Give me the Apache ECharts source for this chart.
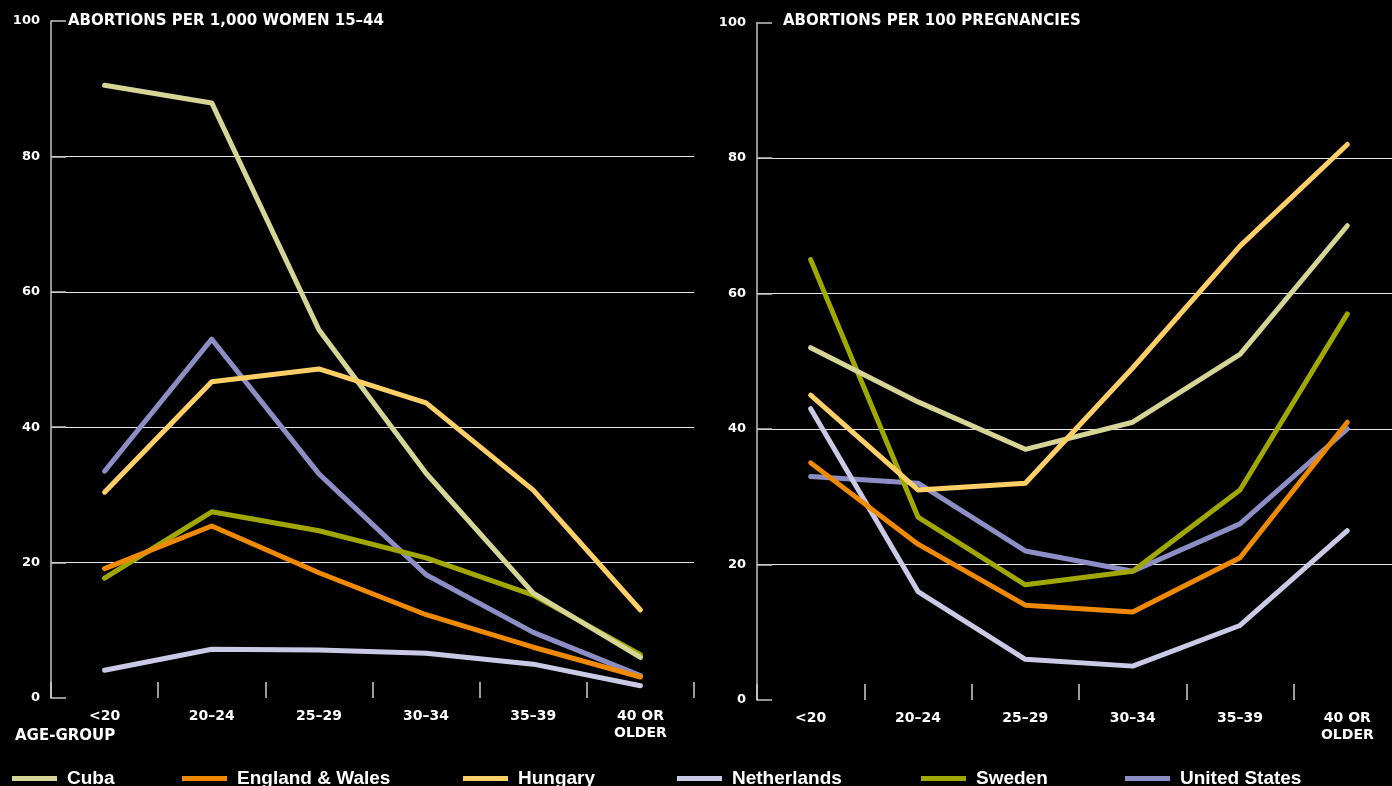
<!DOCTYPE html>
<html>
<head>
<meta charset="utf-8">
<script src="https://cdn.jsdelivr.net/npm/echarts@6/dist/echarts.min.js"></script>
<style>
html,body{margin:0;padding:0;background:#000;}
#chart{width:1392px;height:786px;}
</style>
</head>
<body>
<div id="chart"></div>
<script>
// ---- Data ----
var categories = ['<20', '20–24', '25–29', '30–34', '35–39', '40 OR\nOLDER'];
var yTicks = [0, 20, 40, 60, 80, 100];
var countries = ['Cuba', 'England & Wales', 'Hungary', 'Netherlands', 'Sweden', 'United States'];

// Abortions per 1,000 women 15-44 (left panel)
var rateCuba        = [90.5, 87.9, 54.4, 33.2, 15.5, 6.0];
var rateEngland     = [19.1, 25.4, 18.5, 12.3, 7.5, 3.1];
var rateHungary     = [30.4, 46.7, 48.6, 43.6, 30.7, 13.0];
var rateNetherlands = [4.1, 7.2, 7.1, 6.6, 5.0, 1.8];
var rateSweden      = [17.7, 27.5, 24.7, 20.7, 15.2, 6.4];
var rateUS          = [33.5, 53.0, 33.1, 18.2, 9.7, 3.3];

// Abortions per 100 pregnancies (right panel)
var pctCuba        = [52, 44, 37, 41, 51, 70];
var pctEngland     = [35, 23, 14, 13, 21, 41];
var pctHungary     = [45, 31, 32, 49, 67, 82];
var pctNetherlands = [43, 16, 6, 5, 11, 25];
var pctSweden      = [65, 27, 17, 19, 31, 57];
var pctUS          = [33, 32, 22, 19, 26, 40];

var leftTitle = 'ABORTIONS PER 1,000 WOMEN 15–44';
var rightTitle = 'ABORTIONS PER 100 PREGNANCIES';
var xAxisTitle = 'AGE-GROUP';

// ---- Styling ----
var colors = {
  'Cuba': '#d5d596',
  'England & Wales': '#ef8a00',
  'Hungary': '#fdcf66',
  'Netherlands': '#cacae6',
  'Sweden': '#a0a800',
  'United States': '#8e8ec6'
};
var leftData = {
  'Cuba': rateCuba, 'England & Wales': rateEngland, 'Hungary': rateHungary,
  'Netherlands': rateNetherlands, 'Sweden': rateSweden, 'United States': rateUS
};
var rightData = {
  'Cuba': pctCuba, 'England & Wales': pctEngland, 'Hungary': pctHungary,
  'Netherlands': pctNetherlands, 'Sweden': pctSweden, 'United States': pctUS
};
var drawOrder = ['United States', 'Sweden', 'Cuba', 'Hungary', 'Netherlands', 'England & Wales'];
var legendLeft = [12, 182, 463, 677, 921, 1125];

var wideFont = 'DejaVu Sans';

function xAxisCfg(idx) {
  return {
    type: 'category', gridIndex: idx, data: categories, boundaryGap: true,
    axisLine: { show: false },
    axisTick: { show: true, inside: true, length: 16, lineStyle: { color: '#cfcfcf', width: 1.5 } },
    axisLabel: { color: '#fff', fontFamily: wideFont, fontWeight: 'bold', fontSize: 14, lineHeight: 17, margin: 10 },
    splitLine: { show: false }
  };
}
function yAxisCfg(idx) {
  return {
    type: 'value', gridIndex: idx, min: yTicks[0], max: yTicks[yTicks.length - 1], interval: 20,
    axisLine: { show: true, lineStyle: { color: '#c4c4c4', width: 1.5 } },
    axisTick: { show: true, inside: true, length: 15, lineStyle: { color: '#c4c4c4', width: 1.5 } },
    axisLabel: { color: '#fff', fontFamily: wideFont, fontWeight: 'bold', fontSize: 13, margin: 11 },
    splitLine: { show: true, showMinLine: false, showMaxLine: false, lineStyle: { color: '#e6e6e6', width: 1.2 } }
  };
}

var series = [];
drawOrder.forEach(function (name) {
  [0, 1].forEach(function (g) {
    series.push({
      name: name, type: 'line', xAxisIndex: g, yAxisIndex: g,
      data: g === 0 ? leftData[name] : rightData[name],
      symbol: 'none', smooth: false,
      lineStyle: { color: colors[name], width: 5, cap: 'round', join: 'round' },
      itemStyle: { color: colors[name] },
      emphasis: { disabled: true }
    });
  });
});

var legends = countries.map(function (name, i) {
  return {
    data: [{ name: name, icon: 'rect', itemStyle: { color: colors[name] } }],
    left: legendLeft[i], top: 769, orient: 'horizontal',
    itemWidth: 45, itemHeight: 5, selectedMode: false, padding: 0,
    textStyle: { color: '#fff', fontFamily: 'Liberation Sans', fontWeight: 'bold', fontSize: 19, padding: [0, 0, 0, 5] }
  };
});

var titleStyle = { color: '#fff', fontFamily: wideFont, fontWeight: 'bold', fontSize: 15, lineHeight: 17 };

var option = {
  backgroundColor: '#000',
  animation: false,
  title: [
    { text: leftTitle, left: 68, top: 13, padding: 0, textStyle: titleStyle },
    { text: rightTitle, left: 783, top: 13, padding: 0, textStyle: titleStyle },
    { text: xAxisTitle, left: 15, top: 728, padding: 0, textStyle: titleStyle }
  ],
  legend: legends,
  grid: [
    { left: 51, top: 21, width: 643, height: 677, containLabel: false, outerBoundsMode: 'none' },
    { left: 757, top: 22.5, width: 644, height: 677.5, containLabel: false, outerBoundsMode: 'none' }
  ],
  xAxis: [xAxisCfg(0), xAxisCfg(1)],
  yAxis: [yAxisCfg(0), yAxisCfg(1)],
  series: series
};

var chart = echarts.init(document.getElementById('chart'), null, { renderer: 'canvas' });
chart.setOption(option);
</script>
</body>
</html>
